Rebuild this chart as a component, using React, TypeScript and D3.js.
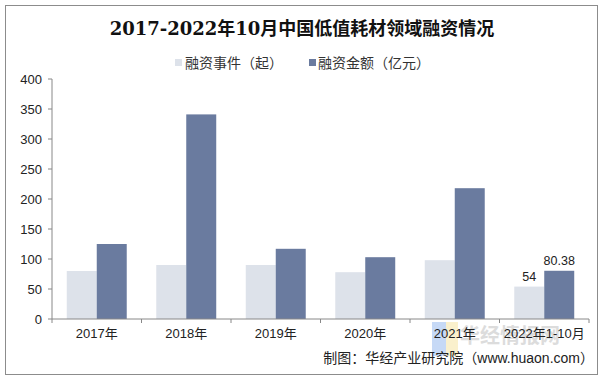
import React from "react";
import * as d3 from "d3";

const categories = ["2017年", "2018年", "2019年", "2020年", "2021年", "2022年1-10月"];
const eventCounts = [80, 90, 90, 78, 98, 54];
const amounts = [125, 341, 117, 103, 218, 80.38];
const yTicks = [0, 50, 100, 150, 200, 250, 300, 350, 400];
const seriesNames = ["融资事件（起）", "融资金额（亿元）"];
const title = "2017-2022年10月中国低值耗材领域融资情况";
const source = "制图：华经产业研究院（www.huaon.com）";

const W = 603;
const H = 382;
const LIGHT = "#dde2ea";
const DARK = "#6a7b9f";
const FONT = "'Liberation Sans', Arial, 'Noto Sans CJK SC', sans-serif";

export default function App() {
  const left = 52;
  const right = 589;
  const top = 79;
  const bottom = 319;
  const x = d3.scaleBand().domain(categories).range([left, right]).paddingInner(0.33).paddingOuter(0.165);
  const y = d3.scaleLinear().domain([0, 400]).range([bottom, top]);
  const bw = x.bandwidth() / 2;
  const boundaries = d3.range(categories.length + 1).map((i) => left + (i * (right - left)) / categories.length);

  return (
    <svg width={W} height={H} style={{ position: "absolute", left: 0, top: 0, background: "#fff" }}>
      <rect x={5.5} y={5.5} width={592} height={369} fill="#fff" stroke="#8c8c8c" strokeWidth={1} />
      <text x={302} y={35} textAnchor="middle" fontSize={18} fontWeight="bold"
        fontFamily="'DejaVu Serif', 'Liberation Serif', 'Noto Sans CJK SC', serif" fill="#111">
        {title}
      </text>
      {/* legend */}
      <rect x={175} y={59} width={7} height={7} fill={LIGHT} />
      <text x={185} y={68} fontSize={14} fontFamily={FONT} fill="#333">{seriesNames[0]}</text>
      <rect x={309} y={59} width={7} height={7} fill={DARK} />
      <text x={318} y={68} fontSize={14} fontFamily={FONT} fill="#333">{seriesNames[1]}</text>

      {/* y axis */}
      <line x1={left} x2={left} y1={top} y2={bottom} stroke="#888" />
      {yTicks.map((t) => (
        <g key={t}>
          <line x1={left - 4} x2={left} y1={y(t)} y2={y(t)} stroke="#888" />
          <text x={42} y={y(t) + 4.5} textAnchor="end" fontSize={13} fontFamily={FONT} fill="#222">{t}</text>
        </g>
      ))}

      {/* bars */}
      {categories.map((c, i) => {
        const x0 = x(c) as number;
        return (
          <g key={c}>
            <rect x={x0} y={y(eventCounts[i])} width={bw} height={bottom - y(eventCounts[i])} fill={LIGHT} />
            <rect x={x0 + bw} y={y(amounts[i])} width={bw} height={bottom - y(amounts[i])} fill={DARK} />
          </g>
        );
      })}

      {/* data labels for last category */}
      <text x={(x(categories[5]) as number) + bw / 2} y={y(eventCounts[5]) - 6} textAnchor="middle" fontSize={12.5} fontFamily={FONT} fill="#222">
        {eventCounts[5]}
      </text>
      <text x={(x(categories[5]) as number) + bw * 1.5} y={y(amounts[5]) - 6} textAnchor="middle" fontSize={12.5} fontFamily={FONT} fill="#222">
        {amounts[5].toFixed(2)}
      </text>

      {/* x axis */}
      <line x1={left} x2={right} y1={bottom} y2={bottom} stroke="#888" />
      {boundaries.map((b, i) => (
        <line key={i} x1={b} x2={b} y1={bottom} y2={bottom + 4} stroke="#888" />
      ))}

      {/* watermark */}
      <g opacity={0.5}>
        <rect x={432} y={322} width={14} height={34} fill="#8fb4ee" />
        <rect x={446} y={322} width={12} height={34} fill="#f6e39a" />
        <text x={460} y={343} fontSize={20} fontWeight="bold" fontFamily="'Noto Sans CJK SC', sans-serif" fill="#bbbbbb">华经情报网</text>
      </g>

      {categories.map((c, i) => (
        <text key={c} x={(x(c) as number) + x.bandwidth() / 2} y={338} textAnchor="middle" fontSize={13} fontFamily={FONT} fill="#222">
          {c}
        </text>
      ))}

      <text x={594} y={363} textAnchor="end" fontSize={14} fontFamily={FONT} fill="#222">{source}</text>
    </svg>
  );
}
